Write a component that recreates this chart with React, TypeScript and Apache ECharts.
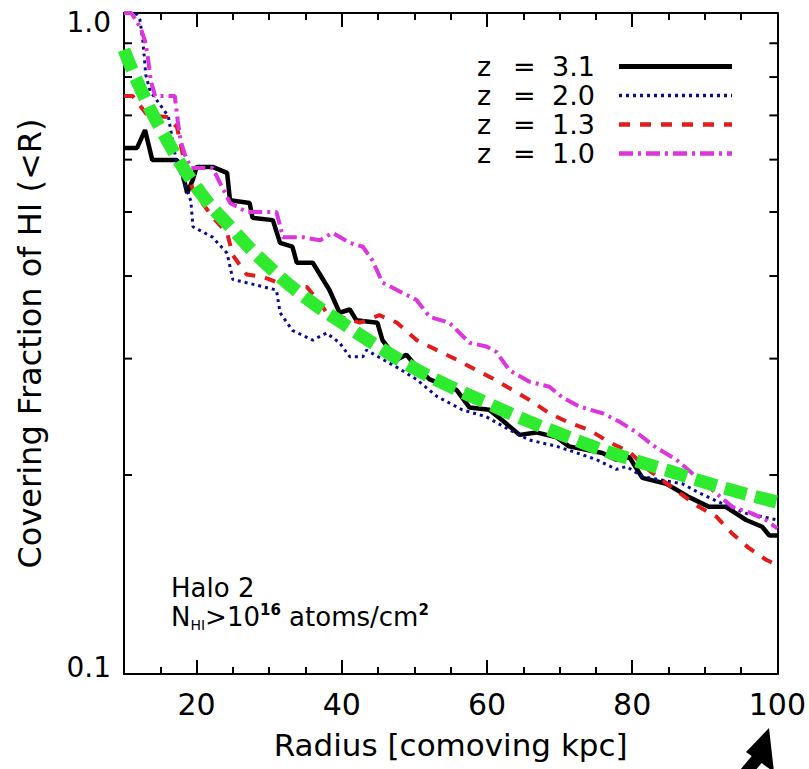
import React, { useEffect, useRef } from "react";
import * as echarts from "echarts";

const FONT = "'DejaVu Sans', sans-serif";

const xMin = 10;
const xMax = 100;
const xTicksMajor = [20, 40, 60, 80, 100];
const xTicksMinor = [15, 25, 30, 35, 45, 50, 55, 65, 70, 75, 85, 90, 95];
const yTicksMinor = [0.2, 0.3, 0.4, 0.5, 0.6, 0.7, 0.8, 0.9];

const seriesNames = ["z = 3.1", "z = 2.0", "z = 1.3", "z = 1.0"];

// z = 3.1 (black solid)
const z31: [number, number][] = [
  [10, 0.625], [11.8, 0.625], [12.9, 0.665], [13.9, 0.599], [17.3, 0.599],
  [18.1, 0.57], [18.7, 0.534], [19.5, 0.56], [20.0, 0.585], [22.2, 0.585],
  [24.2, 0.573], [24.6, 0.521], [27.3, 0.516], [27.7, 0.49], [30.5, 0.486],
  [31.5, 0.449], [33.2, 0.443], [33.8, 0.419], [36.0, 0.419], [38.3, 0.381],
  [39.7, 0.352], [41.1, 0.356], [42.0, 0.343], [44.9, 0.34], [45.6, 0.32],
  [47.6, 0.299], [48.9, 0.304], [49.8, 0.296], [52.1, 0.279], [55.8, 0.269],
  [57.6, 0.253], [60.3, 0.251], [62.1, 0.242], [64.5, 0.23], [66.8, 0.232],
  [69.6, 0.228], [71.3, 0.221], [75.9, 0.216], [77.8, 0.211], [79.6, 0.213],
  [81.4, 0.198], [84.7, 0.194], [87.9, 0.185], [90.6, 0.179], [92.9, 0.179],
  [95.7, 0.171], [97.9, 0.167], [98.9, 0.162], [100, 0.162],
];

// z = 2.0 (blue dotted)
const z20: [number, number][] = [
  [11.6, 1.0], [12.2, 0.976], [12.6, 0.907], [13.0, 0.806], [13.6, 0.762],
  [16.1, 0.698], [17.2, 0.597], [19.2, 0.52], [19.5, 0.475], [22.2, 0.458],
  [24.2, 0.433], [25.0, 0.395], [26.4, 0.392], [31.0, 0.381], [31.5, 0.352],
  [33.2, 0.331], [36.0, 0.32], [37.9, 0.328], [39.7, 0.317], [41.1, 0.302],
  [42.9, 0.302], [43.4, 0.309], [47.6, 0.291], [50.3, 0.279], [53.1, 0.263],
  [56.6, 0.251], [59.9, 0.245], [63.1, 0.234], [65.8, 0.226], [69.6, 0.221],
  [71.3, 0.218], [75.1, 0.211], [77.8, 0.204], [79.2, 0.206], [81.4, 0.199],
  [86.9, 0.194], [89.2, 0.188], [92.9, 0.18], [95.7, 0.175], [97.9, 0.173],
  [100, 0.171],
];

// z = 1.3 (red dashed)
const z13: [number, number][] = [
  [10, 0.749], [11.2, 0.749], [13.2, 0.701], [15.9, 0.696], [17.3, 0.672],
  [18.4, 0.589], [19.5, 0.54], [22.2, 0.491], [24.2, 0.465], [25.0, 0.43],
  [26.9, 0.402], [29.1, 0.399], [31.9, 0.388], [35.2, 0.385], [37.0, 0.364],
  [37.9, 0.352], [42.5, 0.34], [45.2, 0.349], [47.6, 0.34], [50.3, 0.32],
  [53.1, 0.309], [55.8, 0.299], [58.6, 0.288], [60.8, 0.28], [63.5, 0.269],
  [65.8, 0.26], [68.6, 0.248], [71.3, 0.24], [74.1, 0.234], [76.9, 0.224],
  [79.6, 0.217], [81.9, 0.205], [86.5, 0.188], [89.2, 0.179], [91.6, 0.173],
  [93.8, 0.163], [96.1, 0.155], [98.4, 0.149], [100, 0.146],
];

// z = 1.0 (magenta dash-dot)
const z10: [number, number][] = [
  [10, 1.0], [11.0, 1.0], [12.3, 0.949], [12.9, 0.907], [13.3, 0.855],
  [13.7, 0.789], [14.3, 0.749], [17.0, 0.749], [17.4, 0.687], [17.8, 0.64],
  [18.4, 0.61], [19.2, 0.583], [22.2, 0.583], [24.6, 0.516], [26.9, 0.5],
  [31.0, 0.5], [31.9, 0.458], [34.6, 0.458], [37.0, 0.453], [38.7, 0.465],
  [41.1, 0.449], [42.9, 0.443], [44.2, 0.423], [45.6, 0.391], [47.6, 0.381],
  [50.3, 0.368], [52.1, 0.347], [54.8, 0.34], [57.6, 0.317], [59.9, 0.313],
  [61.3, 0.307], [63.1, 0.288], [65.8, 0.277], [68.6, 0.272], [70.4, 0.262],
  [72.7, 0.254], [75.9, 0.248], [78.2, 0.241], [80.6, 0.232], [83.3, 0.22],
  [86.1, 0.211], [88.3, 0.201], [91.0, 0.19], [93.8, 0.179], [96.5, 0.175],
  [98.4, 0.171], [100, 0.166],
];

// smooth fit (green thick dashed)
const fitRadius = [10, 12, 15, 20, 25, 30, 35, 40, 45, 50, 55, 60, 65, 70, 75, 80, 85, 90, 95, 100];
const fitFraction = [0.88, 0.78, 0.67, 0.545, 0.47, 0.413, 0.371, 0.34, 0.313, 0.29, 0.272, 0.257, 0.243, 0.231, 0.22, 0.211, 0.203, 0.195, 0.188, 0.182];

const seriesColors = ["#000000", "#0b0b8f", "#e31b1b", "#dd35dd"];
const seriesWidths = [4.5, 3, 4, 4];
const seriesDash: any[] = ["solid", [3, 4], [11, 10], [14, 5, 3, 5]];
const seriesData = [z31, z20, z13, z10];

export default function App() {
  const ref = useRef<HTMLDivElement>(null);
  useEffect(() => {
    if (!ref.current) return;
    const chart = echarts.init(ref.current, null, { renderer: "svg" });

    const axisLine = { show: true, lineStyle: { color: "#000", width: 2 } };

    const lineSeries = seriesNames.map((name, i) => ({
      name,
      type: "line",
      xAxisIndex: 0,
      yAxisIndex: 0,
      data: seriesData[i],
      symbol: "none",
      showSymbol: false,
      lineStyle: { color: seriesColors[i], width: seriesWidths[i], type: seriesDash[i], cap: "butt" },
      itemStyle: { color: seriesColors[i] },
      z: 3,
    }));

    const richTok = (w: number) => ({ width: w, align: "left", fontSize: 27, lineHeight: 29, fontFamily: FONT, color: "#000" });

    const option: any = {
      animation: false,
      backgroundColor: "#ffffff",
      textStyle: { fontFamily: FONT },
      grid: { left: 124, right: 31, top: 13, bottom: 95, containLabel: false },
      legend: {
        show: true,
        selectedMode: false,
        orient: "vertical",
        align: "right",
        left: 477,
        top: 52,
        itemWidth: 113,
        itemHeight: 14,
        itemGap: 0,
        padding: 0,
        itemStyle: { opacity: 0, borderWidth: 0 },
        data: seriesNames.map((n, i) => ({
          name: n,
          lineStyle: { width: seriesWidths[i] + 0.5, type: seriesDash[i], color: seriesColors[i] },
        })),
        formatter: (name: string) => {
          const parts = name.split(" = ");
          return `{a|${parts[0]}}{b|=}{c|${parts[1]}}`;
        },
        textStyle: {
          color: "#000",
          fontFamily: FONT,
          fontSize: 27,
          lineHeight: 29,
          rich: { a: richTok(36), b: richTok(39), c: richTok(62) },
        },
      },
      xAxis: [
        {
          type: "value",
          min: xMin,
          max: xMax,
          position: "bottom",
          axisLine,
          axisTick: { show: true, inside: true, length: 14, customValues: xTicksMajor, lineStyle: { color: "#000", width: 2 } },
          axisLabel: { show: true, customValues: xTicksMajor, color: "#000", fontSize: 30, fontFamily: FONT, margin: 15 },
          splitLine: { show: false },
          name: "Radius [comoving kpc]",
          nameLocation: "middle",
          nameGap: 55,
          nameTextStyle: { color: "#000", fontSize: 31, fontFamily: FONT },
        },
        {
          type: "value",
          min: xMin,
          max: xMax,
          position: "bottom",
          axisLine: { show: false },
          axisTick: { show: true, inside: true, length: 7, customValues: xTicksMinor, lineStyle: { color: "#000", width: 2 } },
          axisLabel: { show: false },
          splitLine: { show: false },
        },
        {
          type: "value",
          min: xMin,
          max: xMax,
          position: "top",
          axisLine,
          axisTick: { show: true, inside: true, length: 14, customValues: xTicksMajor, lineStyle: { color: "#000", width: 2 } },
          axisLabel: { show: false },
          splitLine: { show: false },
        },
        {
          type: "value",
          min: xMin,
          max: xMax,
          position: "top",
          axisLine: { show: false },
          axisTick: { show: true, inside: true, length: 7, customValues: xTicksMinor, lineStyle: { color: "#000", width: 2 } },
          axisLabel: { show: false },
          splitLine: { show: false },
        },
      ],
      yAxis: [
        {
          type: "log",
          logBase: 10,
          min: 0.1,
          max: 1,
          position: "left",
          axisLine,
          axisTick: { show: false },
          splitLine: { show: false },
          axisLabel: {
            show: true,
            color: "#000",
            fontSize: 28,
            fontFamily: FONT,
            margin: 13,
            formatter: (v: number) => (v > 0.5 ? "{t|1.0}" : "{b|0.1}"),
            rich: {
              t: { fontSize: 28, fontFamily: FONT, color: "#000", padding: [18, 0, 0, 0] },
              b: { fontSize: 28, fontFamily: FONT, color: "#000", padding: [0, 0, 14, 0] },
            },
          },
          name: "Covering Fraction of HI (<R)",
          nameLocation: "middle",
          nameGap: 78,
          nameRotate: 90,
          nameTextStyle: { color: "#000", fontSize: 32, fontFamily: FONT },
        },
        {
          type: "log",
          logBase: 10,
          min: 0.1,
          max: 1,
          position: "right",
          axisLine,
          axisTick: { show: false },
          axisLabel: { show: false },
          splitLine: { show: false },
        },
      ],
      series: [
        {
          type: "custom",
          name: "yMinorTicks",
          xAxisIndex: 0,
          yAxisIndex: 0,
          data: yTicksMinor.map((v) => [xMin, v]),
          clip: false,
          z: 1,
          renderItem: (params: any, api: any) => {
            const v = api.value(1);
            const l = api.coord([xMin, v]);
            const r = api.coord([xMax, v]);
            return {
              type: "group",
              children: [
                { type: "line", shape: { x1: l[0], y1: l[1], x2: l[0] + 8, y2: l[1] }, style: { stroke: "#000", lineWidth: 2 } },
                { type: "line", shape: { x1: r[0] - 8, y1: r[1], x2: r[0], y2: r[1] }, style: { stroke: "#000", lineWidth: 2 } },
              ],
            };
          },
        },
        ...lineSeries,
        {
          name: "fit",
          type: "line",
          xAxisIndex: 0,
          yAxisIndex: 0,
          data: fitRadius.map((x, i) => [x, fitFraction[i]]),
          symbol: "none",
          showSymbol: false,
          smooth: true,
          lineStyle: { color: "#2feb2f", width: 13, type: [22, 9], cap: "butt" },
          z: 4,
        },
      ],
      graphic: [
        {
          type: "text",
          left: 171,
          top: 575,
          style: {
            text: "{n|Halo 2}\n{n|N}{sub|HI}{n|>10}{sup|16}{n| atoms/cm}{sup|2}",
            rich: {
              n: { fontSize: 26, lineHeight: 29, fontFamily: FONT, fill: "#000" },
              sub: { fontSize: 14, lineHeight: 14, verticalAlign: "bottom", fontFamily: FONT, fill: "#000" },
              sup: { fontSize: 15, lineHeight: 15, verticalAlign: "top", fontWeight: "bold", fontFamily: FONT, fill: "#000" },
            },
          },
        },
        {
          type: "line",
          shape: { x1: 736, y1: 784, x2: 758, y2: 758 },
          style: { stroke: "#000", lineWidth: 12 },
        },
        {
          type: "polygon",
          shape: { points: [[769, 728], [746, 752], [774, 772]] },
          style: { fill: "#000" },
        },
      ],
    };

    chart.setOption(option);
    return () => chart.dispose();
  }, []);

  return (
    <div
      ref={ref}
      style={{ position: "fixed", left: 0, top: 0, width: 809, height: 769, background: "#fff" }}
    />
  );
}
